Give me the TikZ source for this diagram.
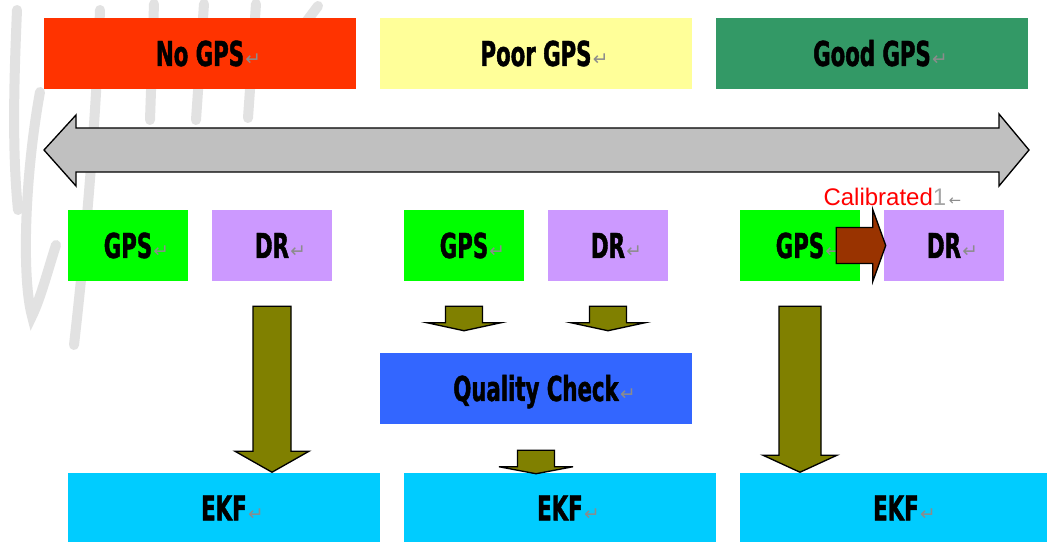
\documentclass[tikz,border=0pt]{standalone}
\usepackage{fontspec}
\setmainfont{Liberation Sans}
\newfontfamily\boxfont{DejaVu Sans}[FakeStretch=0.62, BoldFeatures={FakeBold=1.3}]
\newfontfamily\symfont{DejaVu Sans}
\usetikzlibrary{calc}

\definecolor{nogps}{HTML}{FF3300}
\definecolor{poorgps}{HTML}{FFFF99}
\definecolor{goodgps}{HTML}{339966}
\definecolor{gpsgreen}{HTML}{00FF00}
\definecolor{drviolet}{HTML}{CC99FF}
\definecolor{qcblue}{HTML}{3366FF}
\definecolor{ekfcyan}{HTML}{00CCFF}
\definecolor{olivefill}{HTML}{808000}
\definecolor{brownfill}{HTML}{993300}
\definecolor{scalegray}{HTML}{C0C0C0}
\definecolor{retgray}{HTML}{8C8C8C}
\definecolor{markgray}{HTML}{E2E2E2}
\definecolor{calred}{HTML}{FF0000}
\definecolor{onegray}{HTML}{A6A6A6}

\tikzset{
  panel/.style={rectangle, inner sep=0pt, minimum height=53.25pt,
    text height=18.7pt, text depth=0pt,
    font=\boxfont\bfseries\fontsize{25.7}{28}\selectfont},
  widepanel/.style={panel, minimum width=234pt},
  smallpanel/.style={panel, minimum width=90pt},
  blockedge/.style={draw=black, line width=1pt, line join=miter},
  watermark/.style={draw=markgray, line width=7.5pt, line cap=round},
}

% paragraph mark hanging after a label
\newcommand\retmark{\rlap{\kern1pt\symfont\mdseries\fontsize{14}{14}\selectfont\color{retgray}↵}}

% downward block arrow: source anchor, tip point, gap below source,
% shaft half width, head half width, head length, fill colour (sizes in px)
\newcommand\blockdown[7]{%
  \draw[blockedge, fill=#7] let \p1=(#1), \p2=(#2) in
    (\x1-#4*0.75pt,\y1-#3*0.75pt) -- (\x1+#4*0.75pt,\y1-#3*0.75pt)
    -- (\x1+#4*0.75pt,\y2+#6*0.75pt) -- (\x1+#5*0.75pt,\y2+#6*0.75pt)
    -- (\x1,\y2) -- (\x1-#5*0.75pt,\y2+#6*0.75pt)
    -- (\x1-#4*0.75pt,\y2+#6*0.75pt) -- cycle;}

\begin{document}
\begin{tikzpicture}[x=0.75pt, y=-0.75pt]
\useasboundingbox (0,0) rectangle (1047,542);
\fill[white] (0,0) rectangle (1047,542);

% faint script strokes in the background
\draw[watermark] (17,10) .. controls (14,80) and (12,150) .. (18,210);
\draw[watermark] (40,92) .. controls (24,180) and (22,280) .. (32,316)
                 .. controls (40,300) and (48,270) .. (56,245);
\draw[watermark] (100,10) .. controls (96,120) and (86,240) .. (74,345);
\draw[watermark] (154,4) -- (150,120);
\draw[watermark] (204,4) -- (196,120);
\draw[watermark] (256,4) -- (248,118);
\draw[watermark] (318,6) -- (300,30);

% GPS quality bands
\node[widepanel, fill=nogps]   (nogps)   at (200,53.5) {No GPS\retmark};
\node[widepanel, fill=poorgps] (poorgps) at (536,53.5) {Poor GPS\retmark};
\node[widepanel, fill=goodgps] (goodgps) at (872,53.5) {Good GPS\retmark};

% two-headed scale arrow
\draw[blockedge, fill=scalegray]
  (44,150) -- (76,115) -- (76,128) -- (999,128) -- (999,114) -- (1029,150)
  -- (999,186) -- (999,172) -- (76,172) -- (76,186) -- cycle;

% sensor boxes
\node[smallpanel, fill=gpsgreen] (gps1) at (128,245.5) {GPS\retmark};
\node[smallpanel, fill=drviolet] (dr1)  at (272,245.5) {DR\retmark};
\node[smallpanel, fill=gpsgreen] (gps2) at (464,245.5) {GPS\retmark};
\node[smallpanel, fill=drviolet] (dr2)  at (608,245.5) {DR\retmark};
\node[smallpanel, fill=gpsgreen] (gps3) at (800,245.5) {GPS\retmark};
\node[smallpanel, fill=drviolet] (dr3)  at (944,245.5) {DR\retmark};

% quality check and filters
\node[widepanel, fill=qcblue]  (qc)   at (536,388.5) {Quality Check\retmark};
\node[widepanel, fill=ekfcyan] (ekf1) at (224,508) {EKF\retmark};
\node[widepanel, fill=ekfcyan] (ekf2) at (560,508) {EKF\retmark};
\node[widepanel, fill=ekfcyan] (ekf3) at (896,508) {EKF\retmark};

% calibration arrow from GPS to DR
\draw[blockedge, fill=brownfill] let \p1=(gps3.east), \p2=(dr3.west) in
  (\x1-24*0.75pt,\y1+18*0.75pt) -- (\x2-11*0.75pt,\y1+18*0.75pt)
  -- (\x2-11*0.75pt,\y1+36*0.75pt) -- (\x2+2*0.75pt,\y1)
  -- (\x2-11*0.75pt,\y1-36*0.75pt) -- (\x2-11*0.75pt,\y1-18*0.75pt)
  -- (\x1-24*0.75pt,\y1-18*0.75pt) -- cycle;
\node[anchor=base west, inner sep=0pt, text=calred,
      font=\fontsize{18}{18}\selectfont]
  (cal) at ($(gps3.north east)+(-37,-4)$)
  {Calibrated{\color{onegray}1}\rlap{\kern2pt\symfont\fontsize{11}{11}\selectfont\color{retgray}←}};

% block arrows into the filters
\blockdown{dr1.south}{ekf1.north}{25}{19}{37}{21}{olivefill}
\blockdown{gps3.south}{ekf3.north}{25}{21}{37}{17}{olivefill}
\blockdown{gps2.south}{$(qc.north)+(0,-22)$}{25}{18.5}{37}{8}{olivefill}
\blockdown{dr2.south}{$(qc.north)+(0,-22)$}{25}{18.5}{37}{8}{olivefill}
\blockdown{qc.south}{$(ekf2.north)+(0,1.5)$}{26}{18.5}{37}{7}{olivefill}
\end{tikzpicture}
\end{document}
